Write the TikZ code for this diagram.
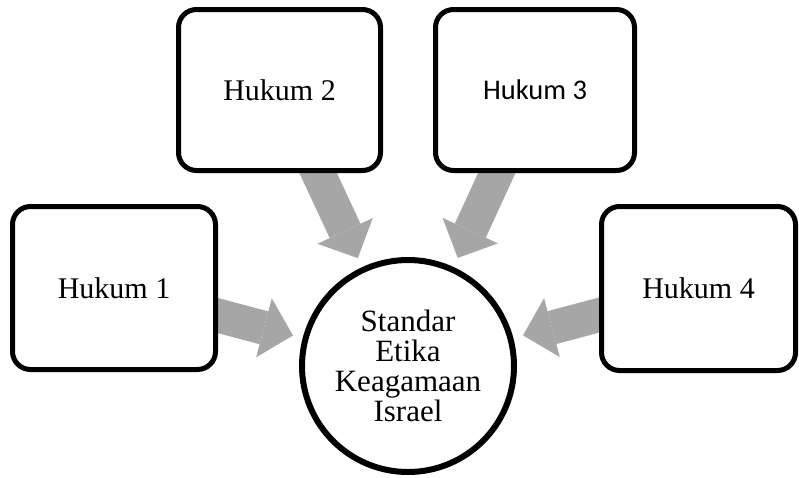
\documentclass[tikz,border=0pt]{standalone}
\usepackage{fontspec}
\setmainfont{Liberation Serif}
\newfontfamily\calibrilike{Carlito}
\usetikzlibrary{arrows.meta,backgrounds}
\definecolor{flowgray}{HTML}{A6A6A6}
\begin{document}
\begin{tikzpicture}[x=1pt,y=-1pt,
  box/.style={draw=black, line width=5pt, rounded corners=18pt, fill=white,
    inner sep=0pt, font=\fontsize{30}{30}\selectfont},
  hub/.style={circle, draw=black, line width=6pt, fill=white,
    minimum size=212pt, inner sep=0pt, align=center,
    font=\fontsize{31}{30}\selectfont},
  flow/.style={draw=flowgray, line width=34pt,
    -{Triangle[width=61pt,length=30pt,line width=0pt]}, shorten >=10pt}
]
\useasboundingbox (0,0) rectangle (799,477);
\node[box, minimum width=203pt, minimum height=163pt] (h1) at (114,288) {Hukum 1};
\node[box, minimum width=202pt, minimum height=161pt] (h2) at (279.5,90) {Hukum 2};
\node[box, minimum width=199pt, minimum height=161pt] (h3) at (535,90)
  {\calibrilike\fontsize{28.5}{28.5}\selectfont Hukum 3};
\node[box, minimum width=194pt, minimum height=164pt] (h4) at (698.5,288.5) {Hukum 4};
\node[hub] (c) at (408,366) {Standar\\Etika\\Keagamaan\\Israel};
\begin{pgfonlayer}{background}
  \draw[flow] (h1.center) -- (c);
  \draw[flow] (h2.center) -- (c);
  \draw[flow] (h3.center) -- (c);
  \draw[flow] (h4.center) -- (c);
\end{pgfonlayer}
\end{tikzpicture}
\end{document}
